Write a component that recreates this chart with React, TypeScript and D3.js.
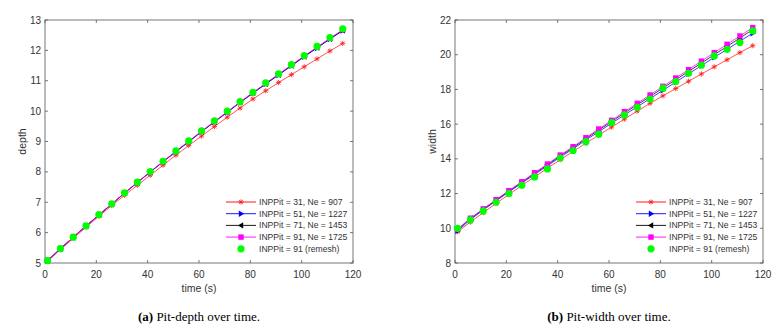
import * as d3 from "d3";

// time samples (s)
const times = [1, 6, 11, 16, 21, 26, 31, 36, 41, 46, 51, 56, 61, 66, 71, 76, 81, 86, 91, 96, 101, 106, 111, 116];

// pit depth
const depthRed = [5.06, 5.44, 5.81, 6.18, 6.54, 6.89, 7.23, 7.56, 7.89, 8.22, 8.55, 8.87, 9.18, 9.49, 9.8, 10.1, 10.4, 10.67, 10.94, 11.2, 11.46, 11.72, 11.98, 12.23];
const depthBlue = [5.08, 5.47, 5.85, 6.22, 6.58, 6.94, 7.3, 7.65, 7.99, 8.33, 8.66, 8.99, 9.32, 9.64, 9.96, 10.28, 10.59, 10.89, 11.19, 11.49, 11.79, 12.08, 12.37, 12.65];
const depthBlack = [5.08, 5.47, 5.85, 6.22, 6.58, 6.94, 7.3, 7.65, 8.0, 8.34, 8.67, 9.0, 9.33, 9.65, 9.97, 10.29, 10.6, 10.9, 11.2, 11.5, 11.8, 12.09, 12.38, 12.66];
const depthMagenta = [5.08, 5.47, 5.85, 6.22, 6.59, 6.95, 7.31, 7.66, 8.0, 8.34, 8.68, 9.01, 9.34, 9.66, 9.98, 10.3, 10.61, 10.92, 11.22, 11.52, 11.82, 12.11, 12.4, 12.68];
const depthGreen = [5.08, 5.47, 5.85, 6.22, 6.59, 6.95, 7.31, 7.66, 8.01, 8.35, 8.69, 9.02, 9.35, 9.68, 10.0, 10.31, 10.62, 10.93, 11.23, 11.53, 11.83, 12.13, 12.42, 12.71];

// pit width
const widthRed = [9.8, 10.36, 10.9, 11.43, 11.95, 12.46, 12.96, 13.46, 13.95, 14.43, 14.9, 15.37, 15.83, 16.29, 16.75, 17.2, 17.63, 18.05, 18.47, 18.89, 19.3, 19.71, 20.12, 20.52];
const widthBlue = [9.85, 10.5, 11.05, 11.58, 12.1, 12.6, 13.1, 13.6, 14.1, 14.58, 15.08, 15.57, 16.05, 16.53, 17.0, 17.47, 17.95, 18.42, 18.9, 19.37, 19.85, 20.31, 20.78, 21.24];
const widthBlack = [9.93, 10.56, 11.1, 11.62, 12.14, 12.65, 13.16, 13.66, 14.17, 14.65, 15.16, 15.66, 16.15, 16.64, 17.12, 17.59, 18.08, 18.56, 19.04, 19.52, 20.0, 20.48, 20.96, 21.45];
const widthMagenta = [9.95, 10.58, 11.12, 11.65, 12.17, 12.68, 13.2, 13.7, 14.22, 14.7, 15.22, 15.72, 16.22, 16.72, 17.2, 17.68, 18.18, 18.66, 19.14, 19.63, 20.12, 20.6, 21.08, 21.56];
const widthGreen = [10.0, 10.48, 11.0, 11.5, 12.0, 12.48, 12.96, 13.42, 14.05, 14.48, 14.99, 15.42, 16.09, 16.53, 16.97, 17.45, 18.07, 18.45, 18.93, 19.4, 19.93, 20.31, 20.7, 21.37];

const legendLabels = [
  "INPPit = 31, Ne = 907",
  "INPPit = 51, Ne = 1227",
  "INPPit = 71, Ne = 1453",
  "INPPit = 91, Ne = 1725",
  "INPPit = 91 (remesh)",
];
const seriesColors = ["#ff0000", "#0000ff", "#000000", "#ff00ff", "#00ff00"];
const seriesMarkers = ["star", "right", "left", "square", "circle"];

const xTicks = [0, 20, 40, 60, 80, 100, 120];
const depthTicks = [5, 6, 7, 8, 9, 10, 11, 12, 13];
const widthTicks = [8, 10, 12, 14, 16, 18, 20, 22];

const axisColor = "#555";
const textColor = "#333";
const font = "'Liberation Sans', Arial, sans-serif";

function Marker({ kind, x, y, color }: { kind: string; x: number; y: number; color: string }) {
  if (kind === "star") {
    const s = 2.6;
    const d = s * 0.72;
    return (
      <g stroke={color} strokeWidth={0.9} opacity={0.8}>
        <line x1={x - s} y1={y} x2={x + s} y2={y} />
        <line x1={x} y1={y - s} x2={x} y2={y + s} />
        <line x1={x - d} y1={y - d} x2={x + d} y2={y + d} />
        <line x1={x - d} y1={y + d} x2={x + d} y2={y - d} />
      </g>
    );
  }
  if (kind === "right") {
    return <path d={`M${x + 3.2},${y} L${x - 2.2},${y - 3.2} L${x - 2.2},${y + 3.2} Z`} fill={color} />;
  }
  if (kind === "left") {
    return <path d={`M${x - 3.2},${y} L${x + 2.2},${y - 3.2} L${x + 2.2},${y + 3.2} Z`} fill={color} />;
  }
  if (kind === "square") {
    return <rect x={x - 2.7} y={y - 2.7} width={5.4} height={5.4} fill={color} />;
  }
  return <circle cx={x} cy={y} r={3.6} fill={color} />;
}

function Panel({
  left, right, top, bottom, yDomain, yTicks, yLabel, series, caption, letter,
}: {
  left: number; right: number; top: number; bottom: number;
  yDomain: [number, number]; yTicks: number[]; yLabel: string;
  series: number[][]; caption: string; letter: string;
}) {
  const x = d3.scaleLinear().domain([0, 120]).range([left, right]);
  const y = d3.scaleLinear().domain(yDomain).range([bottom, top]);
  const line = d3.line<number>().x((_, i) => x(times[i])).y((v) => y(v));
  const cx = (left + right) / 2;
  const legX = right - 130;
  const legY = 202;
  const rowH = 11.7;

  return (
    <g>
      <rect x={left} y={top} width={right - left} height={bottom - top} fill="#fff" stroke={axisColor} strokeWidth={0.8} />
      {xTicks.map((t) => (
        <g key={"x" + t}>
          <line x1={x(t)} x2={x(t)} y1={bottom} y2={bottom - 3} stroke={axisColor} strokeWidth={0.8} />
          <line x1={x(t)} x2={x(t)} y1={top} y2={top + 3} stroke={axisColor} strokeWidth={0.8} />
          <text x={x(t)} y={bottom + 15} textAnchor="middle" fontSize={10} fill={textColor} fontFamily={font}>{t}</text>
        </g>
      ))}
      {yTicks.map((t) => (
        <g key={"y" + t}>
          <line x1={left} x2={left + 3} y1={y(t)} y2={y(t)} stroke={axisColor} strokeWidth={0.8} />
          <line x1={right} x2={right - 3} y1={y(t)} y2={y(t)} stroke={axisColor} strokeWidth={0.8} />
          <text x={left - 4} y={y(t) + 3.5} textAnchor="end" fontSize={10} fill={textColor} fontFamily={font}>{t}</text>
        </g>
      ))}
      <text x={cx} y={bottom + 29} textAnchor="middle" fontSize={10.5} fill={textColor} fontFamily={font}>time (s)</text>
      <text transform={`translate(${left - 19.5},${(top + bottom) / 2}) rotate(-90)`} textAnchor="middle" fontSize={10.5} fill={textColor} fontFamily={font}>{yLabel}</text>

      {series.map((vals, si) => (
        <g key={"s" + si}>
          {si < 4 && <path d={line(vals) ?? ""} fill="none" stroke={seriesColors[si]} strokeWidth={0.9} opacity={si === 0 ? 0.75 : 0.85} />}
          {vals.map((v, i) => (
            <Marker key={i} kind={seriesMarkers[si]} x={x(times[i])} y={y(v)} color={seriesColors[si]} />
          ))}
        </g>
      ))}

      {legendLabels.map((lab, i) => (
        <g key={"l" + i}>
          {i < 4 && <line x1={legX + 3} x2={legX + 33} y1={legY + i * rowH} y2={legY + i * rowH} stroke={seriesColors[i]} strokeWidth={0.9} />}
          <Marker kind={seriesMarkers[i]} x={legX + 18} y={legY + i * rowH} color={seriesColors[i]} />
          <text x={legX + 36} y={legY + i * rowH + 3} fontSize={8.6} fill={textColor} fontFamily={font}>{lab}</text>
        </g>
      ))}

      <text x={cx} y={321} textAnchor="middle" fontSize={13} fill="#000" fontFamily="'Liberation Serif', 'Times New Roman', serif">
        <tspan fontWeight="bold">{letter}</tspan>
        <tspan> {caption}</tspan>
      </text>
    </g>
  );
}

export default function App() {
  return (
    <svg width={783} height={332} style={{ position: "absolute", left: 0, top: 0, background: "#fff" }}>
      <Panel
        left={45} right={353} top={20} bottom={263}
        yDomain={[5, 13]} yTicks={depthTicks} yLabel="depth"
        series={[depthRed, depthBlue, depthBlack, depthMagenta, depthGreen]}
        letter="(a)" caption="Pit-depth over time."
      />
      <Panel
        left={455} right={763} top={20} bottom={263}
        yDomain={[8, 22]} yTicks={widthTicks} yLabel="width"
        series={[widthRed, widthBlue, widthBlack, widthMagenta, widthGreen]}
        letter="(b)" caption="Pit-width over time."
      />
    </svg>
  );
}
